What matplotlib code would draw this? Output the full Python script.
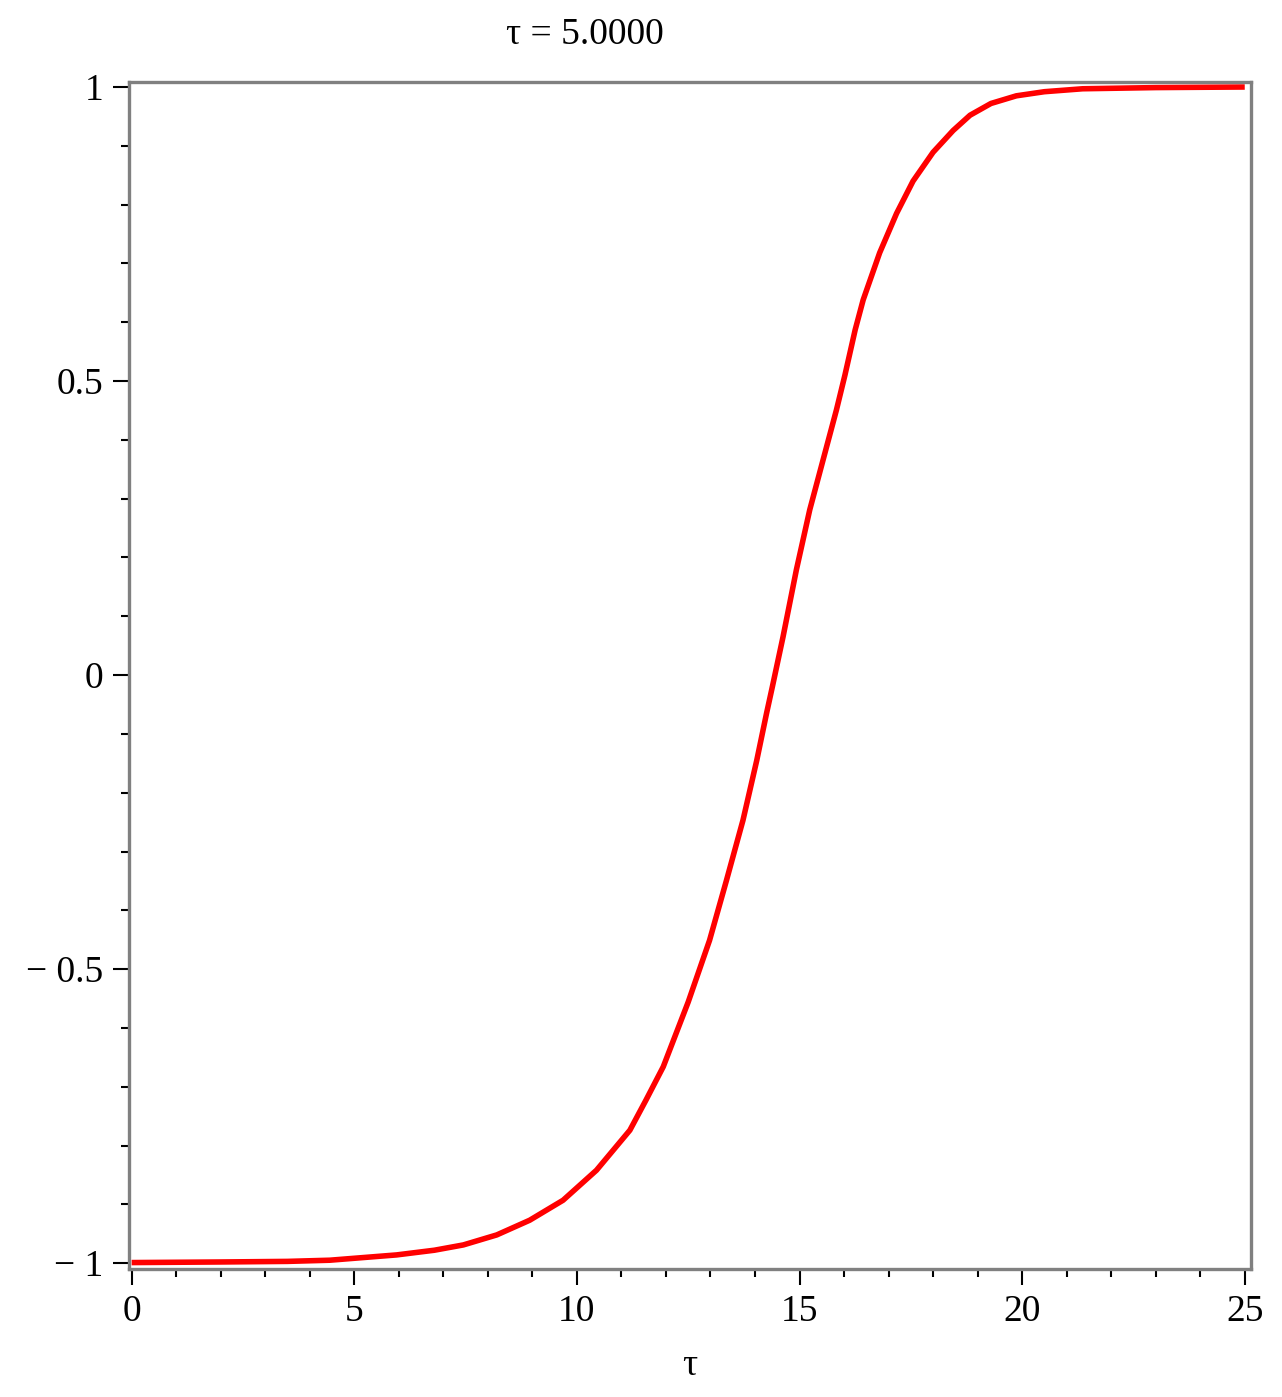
import matplotlib
matplotlib.use("Agg")
import matplotlib.pyplot as plt
from matplotlib.ticker import MultipleLocator, FixedLocator, FixedFormatter

# Values
tau = [0.0, 2.0, 3.5, 4.45, 5.95, 6.8, 7.45, 8.20, 8.94, 9.69, 10.44, 11.19,
       11.55, 11.94, 12.50, 12.98, 13.36, 13.73, 14.04, 14.26, 14.39, 14.63,
       14.93, 15.23, 15.53, 15.83, 16.02, 16.25, 16.43, 16.80, 17.18, 17.55,
       18.00, 18.45, 18.83, 19.30, 19.87, 20.50, 21.36, 23.0, 25.0]
u = [-0.999, -0.998, -0.997, -0.995, -0.986, -0.978, -0.969, -0.952, -0.927,
     -0.893, -0.842, -0.774, -0.723, -0.666, -0.556, -0.451, -0.349, -0.247,
     -0.145, -0.065, -0.020, 0.065, 0.179, 0.281, 0.366, 0.451, 0.510, 0.587,
     0.638, 0.718, 0.785, 0.840, 0.889, 0.926, 0.952, 0.972, 0.985, 0.992,
     0.997, 0.999, 1.0]

x_ticks = [0, 5, 10, 15, 20, 25]
x_ticklabels = ["0", "5", "10", "15", "20", "25"]
y_ticks = [-1, -0.5, 0, 0.5, 1]
y_ticklabels = ["\u2212 1", "\u2212 0.5", "0", "0.5", "1"]
title_text = "\u03c4 = 5.0000"
x_label = "\u03c4"

plt.rcParams['font.family'] = ['Liberation Serif', 'DejaVu Serif']

fig = plt.figure(figsize=(12.82, 13.97), dpi=100)
ax = fig.add_axes([0.1006, 0.0916, 0.8752, 0.8497])

ax.plot(tau, u, color="#ff0000", linewidth=4.0, solid_capstyle="butt",
        solid_joinstyle="round")

ax.set_xlim(-0.06, 25.14)
ax.set_ylim(-1.010, 1.0085)

ax.xaxis.set_major_locator(FixedLocator(x_ticks))
ax.xaxis.set_major_formatter(FixedFormatter(x_ticklabels))
ax.xaxis.set_minor_locator(MultipleLocator(1))
ax.yaxis.set_major_locator(FixedLocator(y_ticks))
ax.yaxis.set_major_formatter(FixedFormatter(y_ticklabels))
ax.yaxis.set_minor_locator(MultipleLocator(0.1))

for sp in ax.spines.values():
    sp.set_color("#808080")
    sp.set_linewidth(2.4)

ax.tick_params(which="major", direction="out", length=11.5, width=1.5,
               color="black", labelsize=27, pad=7)
ax.tick_params(which="minor", direction="out", length=5.8, width=1.5,
               color="black")
ax.tick_params(top=False, right=False, which="both")

ax.set_xlabel(x_label, fontsize=27, labelpad=14)
fig.text(585 / 1282, 1 - 35 / 1397, title_text, fontsize=27,
         ha="center", va="center")

fig.savefig("out.png", dpi=100, facecolor="white")
